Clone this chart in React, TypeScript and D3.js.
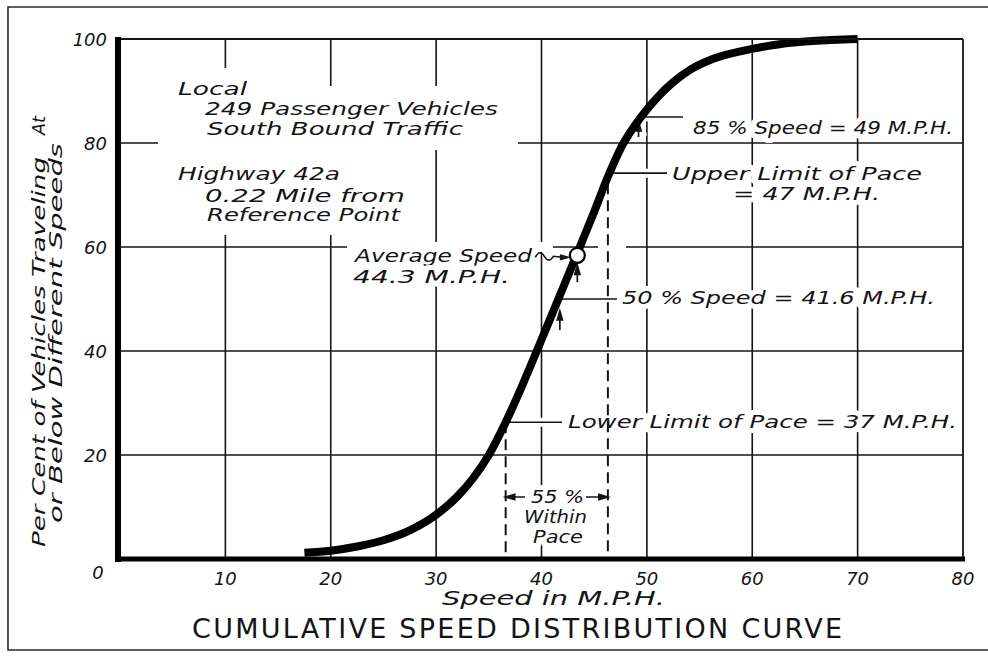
import React from 'react';
import * as d3 from 'd3';

// cumulative speed distribution
const speeds = [17.5, 20, 22.5, 25, 27.5, 30, 32, 33.5, 35, 36.6, 38.2, 39.8, 41.6, 43.4, 45, 46.3, 47.6, 49.4, 51.1, 52.5, 54.2, 56.3, 60, 62.6, 65.7, 70];
const cumulativePct = [1.2, 1.6, 2.4, 3.6, 5.5, 8.5, 12, 15.5, 20, 26.3, 33.5, 41.2, 50, 58.8, 66.8, 73.5, 79.3, 84.9, 89, 91.7, 94.2, 96.2, 98.1, 99, 99.6, 100];

const xTicks = [10, 20, 30, 40, 50, 60, 70, 80];
const yTicks = [20, 40, 60, 80, 100];
const gridSpeeds = [10, 20, 30, 40, 50, 60, 70];
const gridPcts = [20, 40, 60, 80];

// marked points on the curve [speed, percent]
const averageMark = [43.4, 58.4];
const pct85Mark = [49.4, 85];
const pct50Mark = [41.6, 50];
const paceLowerMark = [36.6, 26.3];
const paceUpperMark = [46.3, 74.2];

const titleText = 'CUMULATIVE SPEED DISTRIBUTION CURVE';
const xTitle = 'Speed in M.P.H.';
const yTitle = ['Per Cent of Vehicles Traveling', 'At', 'or Below Different Speeds'];
const infoLines = ['Local', '249 Passenger Vehicles', 'South Bound Traffic', 'Highway 42a', '0.22 Mile from', 'Reference Point'];

const W = 988;
const H = 658;
const FONT = '"DejaVu Sans", Verdana, sans-serif';
const INK = '#141414';

const x = d3.scaleLinear().domain([0, 80]).range([120, 963]);
const y = d3.scaleLinear().domain([0, 100]).range([559, 39]);

function Note({ px, py, w, size = 18, children }: any) {
  return (
    <text
      x={px}
      y={py}
      textLength={w}
      lengthAdjust="spacingAndGlyphs"
      fontSize={size}
      fontStyle="italic"
      fill={INK}
      stroke="#fff"
      strokeWidth={10}
      strokeLinejoin="round"
      paintOrder="stroke"
    >
      {children}
    </text>
  );
}

// vertical arrow pointing up, tip at ty
function upArrow(ax: number, ty: number, len: number) {
  return `M${ax},${ty + len}L${ax},${ty + 6}M${ax},${ty}L${ax - 2.6},${ty + 9}L${ax + 2.6},${ty + 9}Z`;
}
function sideArrow(from: number, tip: number, ay: number) {
  const d = tip > from ? -1 : 1;
  return `M${from},${ay}L${tip + d * 6},${ay}M${tip},${ay}L${tip + d * 9},${ay - 2.6}L${tip + d * 9},${ay + 2.6}Z`;
}

export default function App() {
  const curve = d3
    .line<number>()
    .x((_, i) => x(speeds[i]))
    .y((d) => y(d))
    .curve(d3.curveMonotoneX)(cumulativePct) as string;

  const [avS, avP] = averageMark;
  const cx = x(avS);
  const cy = y(avP);

  const leaders = [
    { x1: x(pct85Mark[0]), x2: 683, yy: y(pct85Mark[1]) },
    { x1: x(paceUpperMark[0]), x2: 667, yy: y(paceUpperMark[1]) },
    { x1: x(pct50Mark[0]), x2: 617, yy: y(pct50Mark[1]) },
    { x1: x(paceLowerMark[0]), x2: 562, yy: y(paceLowerMark[1]) },
  ];

  const arrows = [
    upArrow(x(pct85Mark[0]) - 2, y(pct85Mark[1]) + 5, 15),
    upArrow(cx, cy + 10, 17),
    upArrow(x(pct50Mark[0]) + 1.5, y(pct50Mark[1]) + 12, 19),
    sideArrow(525, x(paceLowerMark[0]), 497),
    sideArrow(586, x(paceUpperMark[0]), 497),
  ];

  const squiggle =
    `M${cx - 42},${cy + 2}c3,-6 6,-6 9,-1s6,5 9,0` +
    `L${cx - 15},${cy + 2}`;
  const squiggleHead = `M${cx - 8},${cy + 2}L${cx - 17},${cy - 0.6}L${cx - 17},${cy + 4.6}Z`;

  return (
    <div style={{ position: 'absolute', left: 0, top: 0 }}>
      <svg width={W} height={H} style={{ display: 'block', fontFamily: FONT }}>
        <rect width={W} height={H} fill="#fff" />

        {/* outer frame */}
        <path d={`M${W},7H8V650H${W}`} fill="none" stroke="#2a2a2a" strokeWidth={1.6} />

        {/* grid */}
        <g stroke={INK} strokeWidth={1.6}>
          {gridSpeeds.map((s) => (
            <line key={'gx' + s} x1={x(s)} x2={x(s)} y1={y(100)} y2={y(0)} />
          ))}
          {gridPcts.map((p) => (
            <line key={'gy' + p} x1={x(0)} x2={x(80)} y1={y(p)} y2={y(p)} />
          ))}
        </g>

        {/* blank areas where the grid was left out around lettering */}
        <g fill="#fff">
          <rect x={158} y={68} width={102} height={82} />
          <rect x={260} y={86} width={258} height={64} />
          <rect x={158} y={150} width={272} height={85} />
          <rect x={347} y={242} width={206} height={10} />
          <rect x={598} y={242} width={28} height={10} />
        </g>

        {/* notes */}
        <Note px={178} py={95} w={69}>{infoLines[0]}</Note>
        <Note px={205} py={115} w={293}>{infoLines[1]}</Note>
        <Note px={207} py={135} w={256}>{infoLines[2]}</Note>
        <Note px={178} py={180} w={162}>{infoLines[3]}</Note>
        <Note px={205} py={202} w={200}>{infoLines[4]}</Note>
        <Note px={207} py={221} w={193}>{infoLines[5]}</Note>

        <Note px={355} py={262} w={177}>Average Speed</Note>
        <Note px={353} py={283} w={157}>44.3 M.P.H.</Note>
        <Note px={693} py={134} w={260}>85 % Speed = 49 M.P.H.</Note>
        <Note px={672} py={180} w={250}>Upper Limit of Pace</Note>
        <Note px={733} py={200} w={147}>= 47 M.P.H.</Note>
        <Note px={622} py={304} w={313}>50 % Speed = 41.6 M.P.H.</Note>
        <Note px={568} py={428} w={389}>Lower Limit of Pace = 37 M.P.H.</Note>
        <Note px={531} py={503} w={53} size={17}>55 %</Note>
        <Note px={524} py={523} w={63} size={17}>Within</Note>
        <Note px={533} py={543} w={50} size={17}>Pace</Note>

        {/* halos behind leaders and arrows */}
        <g stroke="#fff" strokeWidth={9} fill="none">
          {leaders.map((l, i) => (
            <line key={'lh' + i} x1={l.x1} x2={l.x2} y1={l.yy} y2={l.yy} />
          ))}
          {arrows.slice(0, 3).map((a, i) => (
            <path key={'ah' + i} d={a} />
          ))}
        </g>

        {/* pace limits */}
        <g stroke={INK} strokeWidth={2} strokeDasharray="11 6">
          <line x1={x(paceLowerMark[0])} x2={x(paceLowerMark[0])} y1={y(paceLowerMark[1])} y2={y(0)} />
          <line x1={x(paceUpperMark[0])} x2={x(paceUpperMark[0])} y1={y(paceUpperMark[1]) + 10} y2={y(0)} />
        </g>

        <g stroke={INK} strokeWidth={1.7} fill={INK}>
          {leaders.map((l, i) => (
            <line key={'l' + i} x1={l.x1} x2={l.x2} y1={l.yy} y2={l.yy} />
          ))}
          {arrows.map((a, i) => (
            <path key={'a' + i} d={a} />
          ))}
        </g>
        <path d={squiggle} stroke={INK} strokeWidth={1.6} fill="none" />
        <path d={squiggleHead} fill={INK} stroke={INK} strokeWidth={1} />

        {/* curve */}
        <path d={curve} fill="none" stroke="#000" strokeWidth={8} strokeLinecap="butt" />

        {/* frame of plot */}
        <line x1={x(0)} x2={x(80)} y1={y(100)} y2={y(100)} stroke={INK} strokeWidth={1.8} />
        <line x1={x(80)} x2={x(80)} y1={y(100)} y2={y(0)} stroke={INK} strokeWidth={1.8} />
        <line x1={x(0) - 2} x2={x(0) - 2} y1={y(100) - 2} y2={y(0) + 3} stroke="#000" strokeWidth={6} />
        <line x1={x(0) - 5} x2={x(80) + 2} y1={y(0)} y2={y(0)} stroke="#000" strokeWidth={5} />

        {/* average speed marker */}
        <circle cx={cx} cy={cy} r={7.5} fill="#fff" stroke="#000" strokeWidth={2.2} />

        {/* tick labels */}
        <g fontSize={18} fontStyle="italic" fill={INK}>
          {yTicks.map((t) => (
            <text key={'yt' + t} x={107} y={y(t) + 6.5} textAnchor="end">
              {t}
            </text>
          ))}
          <text x={98} y={579} textAnchor="middle">0</text>
          {xTicks.map((t) => (
            <text key={'xt' + t} x={x(t)} y={585} textAnchor="middle">
              {t}
            </text>
          ))}
        </g>

        {/* axis titles */}
        <g fontSize={17} fontStyle="italic" fill={INK}>
          <text transform="translate(45,547) rotate(-90)" textLength={390} lengthAdjust="spacingAndGlyphs">
            {yTitle[0]}
          </text>
          <text transform="translate(45,135) rotate(-90)" textLength={19} lengthAdjust="spacingAndGlyphs">
            {yTitle[1]}
          </text>
          <text transform="translate(62,523) rotate(-90)" textLength={380} lengthAdjust="spacingAndGlyphs">
            {yTitle[2]}
          </text>
        </g>
        <text x={442} y={605} fontSize={19} fontStyle="italic" fill={INK} textLength={223} lengthAdjust="spacingAndGlyphs">
          {xTitle}
        </text>

        <text x={192} y={638} fontSize={27} fill={INK} textLength={650} lengthAdjust="spacing">
          {titleText}
        </text>
      </svg>
    </div>
  );
}
